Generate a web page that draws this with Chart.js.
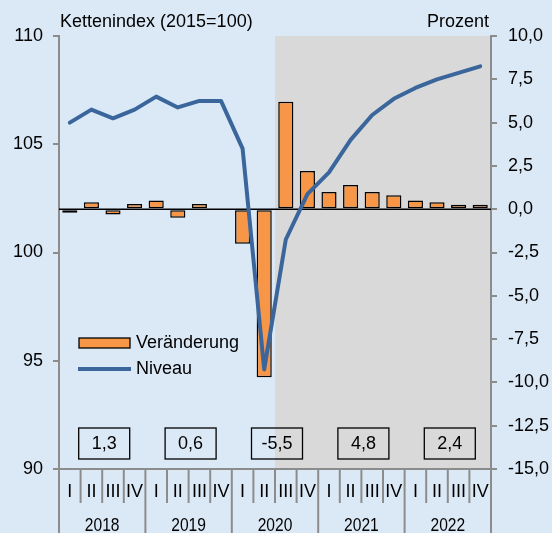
<!DOCTYPE html>
<html>
<head>
<meta charset="utf-8">
<script src="https://cdn.jsdelivr.net/npm/chart.js@4/dist/chart.umd.min.js"></script>
<style>
  html, body { margin: 0; padding: 0; background: #dbe9f6; }
  #wrap { width: 552px; height: 533px; }
</style>
</head>
<body>
<div id="wrap"><canvas id="c" width="552" height="533"></canvas></div>
<script>
const quarters = ['I', 'II', 'III', 'IV'];
const years = ['2018', '2019', '2020', '2021', '2022'];
// Veränderung gegenüber Vorquartal, Prozent (rechte Achse)
const veraenderung = [-0.2, 0.4, -0.3, 0.3, 0.5, -0.5, 0.3, 0.0, -2.0, -9.7, 6.2, 2.2, 1.0, 1.4, 1.0, 0.8, 0.5, 0.4, 0.25, 0.25];
// Kettenindex 2015=100 (linke Achse)
const niveau = [106.0, 106.6, 106.2, 106.6, 107.2, 106.7, 107.0, 107.0, 104.8, 94.6, 100.6, 102.7, 103.7, 105.2, 106.35, 107.1, 107.6, 108.0, 108.3, 108.6];
const jahresWerte = ['1,3', '0,6', '-5,5', '4,8', '2,4'];
const prognoseAb = 10; // Index des ersten Quartals im grauen Bereich (2020 III)

const labels = [];
years.forEach(y => quarters.forEach(q => labels.push(q + ' ' + y)));

const FONT = '"Liberation Sans", Arial, sans-serif';
const AXIS = '#8c8c8c';
const BLUE = '#3a669c';

const fmt = v => v.toFixed(1).replace('.', ',');

const decoPlugin = {
  id: 'deco',
  beforeDraw(chart) {
    const {ctx, chartArea: a} = chart;
    ctx.save();
    ctx.fillStyle = '#dbe9f6';
    ctx.fillRect(0, 0, chart.width, chart.height);
    const w = (a.right - a.left) / labels.length;
    ctx.fillStyle = '#d9d9d9';
    ctx.fillRect(a.left + prognoseAb * w, a.top, a.right - a.left - prognoseAb * w, a.bottom - a.top);
    ctx.restore();
  },
  beforeDatasetsDraw(chart) {
    const {ctx, chartArea: a, scales: {y1}} = chart;
    const y0 = y1.getPixelForValue(0);
    ctx.save();
    ctx.strokeStyle = '#000';
    ctx.lineWidth = 1.5;
    ctx.beginPath();
    ctx.moveTo(a.left, y0);
    ctx.lineTo(a.right, y0);
    ctx.stroke();
    ctx.restore();
  },
  afterDraw(chart) {
    const {ctx, chartArea: a, scales: {y, y1}} = chart;
    const w = (a.right - a.left) / labels.length;
    ctx.save();
    ctx.strokeStyle = AXIS;
    ctx.lineWidth = 2;
    // x-Achse
    ctx.beginPath();
    ctx.moveTo(a.left - 6, a.bottom);
    ctx.lineTo(a.right + 6, a.bottom);
    ctx.stroke();
    // Trennlinien Quartale / Jahre
    for (let i = 0; i <= labels.length; i++) {
      const xp = a.left + i * w;
      ctx.beginPath();
      ctx.moveTo(xp, a.bottom);
      ctx.lineTo(xp, i % 4 === 0 ? chart.height : a.bottom + 34);
      ctx.stroke();
    }
    ctx.fillStyle = '#000';
    ctx.font = '18px ' + FONT;
    ctx.textBaseline = 'middle';
    // Achsenbeschriftung links / rechts
    ctx.textAlign = 'right';
    y.ticks.forEach(t => ctx.fillText(String(t.value), a.left - 16, y.getPixelForValue(t.value)));
    ctx.textAlign = 'left';
    y1.ticks.forEach(t => ctx.fillText(fmt(t.value), a.right + 17, y1.getPixelForValue(t.value)));
    ctx.textAlign = 'center';
    labels.forEach((l, i) => {
      ctx.fillText(quarters[i % 4], a.left + (i + 0.5) * w, a.bottom + 23);
    });
    // Jahre (schmaler gesetzt)
    years.forEach((yr, j) => {
      ctx.save();
      ctx.translate(a.left + (j * 4 + 2) * w, a.bottom + 57);
      ctx.scale(0.82, 1);
      ctx.font = '19px ' + FONT;
      ctx.fillText(yr, 0, 0);
      ctx.restore();
    });
    // Jahreswerte
    ctx.strokeStyle = '#000';
    ctx.lineWidth = 1.3;
    jahresWerte.forEach((v, j) => {
      const cx = a.left + (j * 4 + 2) * w + 2;
      ctx.strokeRect(cx - 25.5, a.bottom - 41, 51, 31);
      ctx.fillText(v, cx, a.bottom - 25);
    });
    // Legende
    ctx.fillStyle = '#f79646';
    ctx.fillRect(79, 338, 51, 10);
    ctx.strokeRect(79, 338, 51, 10);
    ctx.strokeStyle = BLUE;
    ctx.lineWidth = 4;
    ctx.beginPath();
    ctx.moveTo(78, 369);
    ctx.lineTo(131, 369);
    ctx.stroke();
    ctx.fillStyle = '#000';
    ctx.textAlign = 'left';
    ctx.fillText('Veränderung', 136, 343);
    ctx.fillText('Niveau', 136, 369);
    // Achsentitel
    ctx.fillText('Kettenindex (2015=100)', 60, 22);
    ctx.textAlign = 'right';
    ctx.fillText('Prozent', 489, 22);
    ctx.restore();
  }
};

new Chart(document.getElementById('c'), {
  data: {
    labels: labels,
    datasets: [
      {
        type: 'line',
        label: 'Niveau',
        data: niveau,
        yAxisID: 'y',
        borderColor: BLUE,
        borderWidth: 4,
        borderJoinStyle: 'round',
        borderCapStyle: 'round',
        pointRadius: 0,
        tension: 0,
        order: 1
      },
      {
        type: 'bar',
        label: 'Veränderung',
        data: veraenderung,
        yAxisID: 'y1',
        backgroundColor: '#f79646',
        borderColor: '#000',
        borderWidth: 1.5,
        borderSkipped: false,
        categoryPercentage: 1,
        barPercentage: 0.7,
        order: 2
      }
    ]
  },
  options: {
    responsive: false,
    animation: false,
    devicePixelRatio: 1,
    layout: {padding: {top: 36, left: 0, right: 0, bottom: 0}},
    plugins: {legend: {display: false}, tooltip: {enabled: false}},
    scales: {
      x: {
        type: 'category',
        offset: true,
        grid: {display: false},
        border: {display: false},
        ticks: {display: false},
        afterFit: s => { s.height = 64; }
      },
      y: {
        position: 'left',
        min: 90,
        max: 110,
        ticks: {stepSize: 5, color: 'rgba(0,0,0,0)', font: {family: FONT, size: 15}, padding: 10},
        grid: {drawOnChartArea: false, tickLength: 6, color: AXIS, lineWidth: 2},
        border: {color: AXIS, width: 2},
        afterFit: s => { s.width = 59; }
      },
      y1: {
        position: 'right',
        min: -15,
        max: 10,
        ticks: {stepSize: 2.5, color: 'rgba(0,0,0,0)', font: {family: FONT, size: 15}, padding: 11, callback: v => fmt(v)},
        grid: {drawOnChartArea: false, tickLength: 6, color: AXIS, lineWidth: 2},
        border: {color: AXIS, width: 2},
        afterFit: s => { s.width = 61; }
      }
    }
  },
  plugins: [decoPlugin]
});
</script>
</body>
</html>
